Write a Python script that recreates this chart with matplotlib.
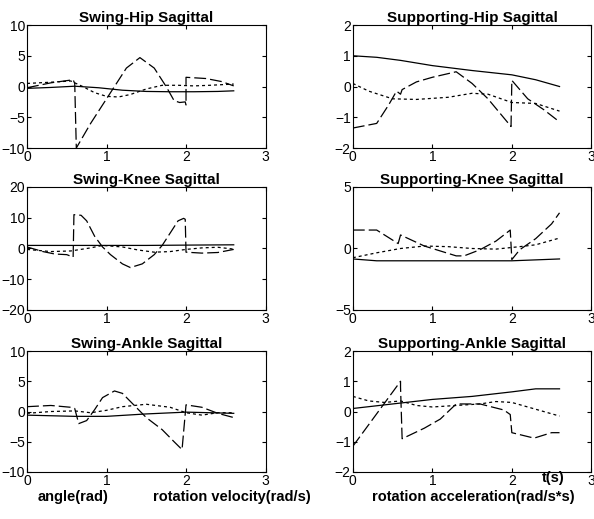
import numpy as np
import matplotlib.pyplot as plt

plt.rcParams['font.family'] = ['Liberation Sans', 'DejaVu Sans']

# --- joint trajectories (t in seconds) ---
# swing hip
sh_t_ang = [0, 0.3, 0.6, 0.9, 1.2, 1.5, 1.8, 2.1, 2.4, 2.6]
sh_ang = [-0.3, -0.15, 0.05, -0.2, -0.6, -0.8, -0.85, -0.85, -0.8, -0.7]
sh_t_vel = [0, 0.3, 0.55, 0.7, 0.85, 1.0, 1.15, 1.3, 1.5, 1.7, 1.9, 2.1, 2.3, 2.6]
sh_vel = [0.5, 0.7, 0.9, 0.0, -1.0, -1.6, -1.7, -1.3, -0.4, 0.2, 0.2, 0.1, 0.2, 0.4]
sh_t_acc = [0, 0.3, 0.58, 0.6, 0.62, 0.8, 1.0, 1.1, 1.25, 1.42, 1.6, 1.75, 1.85, 1.92,
            1.99, 2.0, 2.0, 2.25, 2.45, 2.6]
sh_acc = [-0.2, 0.6, 1.1, 0.5, -10.0, -6.0, -2.0, 0.0, 3.0, 4.7, 3.0, 0.0, -2.3, -2.6,
          -2.5, -3.0, 1.5, 1.3, 0.8, 0.1]

# supporting hip
ph_t_ang = [0, 0.3, 0.6, 1.0, 1.5, 2.0, 2.3, 2.6]
ph_ang = [1.0, 0.95, 0.85, 0.68, 0.52, 0.38, 0.22, 0.0]
ph_t_vel = [0, 0.2, 0.5, 0.8, 1.2, 1.5, 1.7, 2.0, 2.3, 2.6]
ph_vel = [0.1, -0.15, -0.4, -0.42, -0.35, -0.22, -0.25, -0.52, -0.55, -0.8]
ph_t_acc = [0, 0.3, 0.45, 0.55, 0.6, 0.62, 0.8, 1.0, 1.3, 1.5, 1.7, 1.99, 2.0, 2.2, 2.4, 2.6]
ph_acc = [-1.35, -1.2, -0.6, -0.15, -0.25, -0.1, 0.15, 0.3, 0.48, 0.1, -0.4, -1.3, 0.2,
          -0.4, -0.75, -1.15]

# swing knee
sk_t_ang = [0, 0.5, 1.0, 1.5, 2.0, 2.6]
sk_ang = [1.0, 1.0, 1.0, 1.0, 1.1, 1.2]
sk_t_vel = [0, 0.3, 0.55, 0.8, 0.95, 1.2, 1.4, 1.6, 1.8, 2.0, 2.2, 2.4, 2.6]
sk_vel = [-0.3, -1.0, -0.8, 0.2, 1.0, 0.5, -0.5, -1.2, -1.0, -0.3, 0.2, 0.4, -0.2]
sk_t_acc = [0, 0.2, 0.35, 0.5, 0.58, 0.59, 0.68, 0.75, 0.85, 0.95, 1.05, 1.2, 1.3, 1.45,
            1.6, 1.7, 1.8, 1.9, 1.97, 1.99, 2.0, 2.2, 2.4, 2.6]
sk_acc = [0.5, -1.0, -1.8, -2.0, -2.8, 11.0, 10.8, 9.0, 4.0, 0.5, -2.0, -5.0, -6.2, -5.0,
          -2.0, 1.0, 5.0, 9.0, 9.8, 9.5, -1.2, -1.5, -1.3, -0.3]

# supporting knee
pk_t_ang = [0, 0.3, 1.0, 2.0, 2.6]
pk_ang = [-0.85, -1.0, -1.0, -1.0, -0.85]
pk_t_vel = [0, 0.3, 0.6, 0.9, 1.2, 1.5, 1.8, 2.1, 2.3, 2.6]
pk_vel = [-0.75, -0.35, 0.0, 0.2, 0.15, 0.0, -0.05, 0.15, 0.3, 0.85]
pk_t_acc = [0, 0.3, 0.57, 0.6, 0.9, 1.1, 1.3, 1.4, 1.6, 1.8, 1.98, 2.0, 2.1, 2.3, 2.5, 2.6]
pk_acc = [1.5, 1.5, 0.4, 1.1, 0.2, -0.2, -0.6, -0.6, -0.1, 0.6, 1.5, -0.9, -0.1, 0.8,
          2.0, 2.9]

# swing ankle
sa_t_ang = [0, 0.6, 1.0, 1.5, 2.0, 2.6]
sa_ang = [-0.6, -0.8, -0.8, -0.4, -0.1, -0.3]
sa_t_vel = [0, 0.3, 0.6, 0.8, 1.0, 1.2, 1.5, 1.8, 2.0, 2.2, 2.4, 2.6]
sa_vel = [-0.3, 0.0, 0.1, -0.2, 0.2, 0.8, 1.2, 0.7, -0.2, -0.6, -0.2, -0.2]
sa_t_acc = [0, 0.3, 0.55, 0.6, 0.65, 0.75, 0.85, 0.95, 1.1, 1.2, 1.35, 1.5, 1.7, 1.85,
            1.95, 2.0, 2.2, 2.4, 2.6]
sa_acc = [0.8, 1.0, 0.7, 0.5, -2.0, -1.5, 0.3, 2.3, 3.4, 3.0, 1.0, -1.0, -3.0, -5.0,
          -6.3, 1.1, 0.7, -0.3, -1.0]

# supporting ankle
pa_t_ang = [0, 0.5, 1.0, 1.5, 2.0, 2.3, 2.6]
pa_ang = [0.1, 0.25, 0.4, 0.5, 0.65, 0.75, 0.75]
pa_t_vel = [0, 0.2, 0.4, 0.6, 0.8, 1.0, 1.3, 1.6, 1.8, 2.0, 2.2, 2.6]
pa_vel = [0.5, 0.35, 0.3, 0.35, 0.2, 0.15, 0.2, 0.25, 0.33, 0.3, 0.15, -0.15]
pa_t_acc = [0, 0.6, 0.6, 0.62, 0.9, 1.1, 1.3, 1.6, 1.9, 1.98, 2.0, 2.28, 2.5, 2.6]
pa_acc = [-1.15, 1.0, 0.8, -0.9, -0.55, -0.25, 0.25, 0.25, 0.05, -0.1, -0.7, -0.88,
          -0.7, -0.7]

panels = [
    ('Swing-Hip Sagittal', (sh_t_ang, sh_ang), (sh_t_vel, sh_vel), (sh_t_acc, sh_acc), 10, 5),
    ('Supporting-Hip Sagittal', (ph_t_ang, ph_ang), (ph_t_vel, ph_vel), (ph_t_acc, ph_acc), 2, 1),
    ('Swing-Knee Sagittal', (sk_t_ang, sk_ang), (sk_t_vel, sk_vel), (sk_t_acc, sk_acc), 20, 10),
    ('Supporting-Knee Sagittal', (pk_t_ang, pk_ang), (pk_t_vel, pk_vel), (pk_t_acc, pk_acc), 5, 5),
    ('Swing-Ankle Sagittal', (sa_t_ang, sa_ang), (sa_t_vel, sa_vel), (sa_t_acc, sa_acc), 10, 5),
    ('Supporting-Ankle Sagittal', (pa_t_ang, pa_ang), (pa_t_vel, pa_vel), (pa_t_acc, pa_acc), 2, 1),
]

fig = plt.figure(figsize=(5.94, 5.19), dpi=100)

lefts = [0.0455, 0.594]
bottoms = [0.7148, 0.4027, 0.0906]
heights = [0.237, 0.237, 0.233]
w = 0.4015

lw = 0.9
for i, (title, ang, vel, acc, ylim, ystep) in enumerate(panels):
    row, col = divmod(i, 2)
    ax = fig.add_axes([lefts[col], bottoms[row], w, heights[row]])
    ax.plot(ang[0], ang[1], color='black', lw=lw)
    ax.plot(vel[0], vel[1], color='black', lw=lw, dashes=(2.4, 2.4))
    ax.plot(acc[0], acc[1], color='black', lw=lw, dashes=(9.5, 3.2))
    ax.set_xlim(0, 3)
    ax.set_ylim(-ylim, ylim)
    ax.set_xticks([0, 1, 2, 3])
    ax.set_yticks(np.arange(-ylim, ylim + 0.01, ystep))
    ax.tick_params(direction='in', top=True, right=True, length=3, width=0.8,
                   labelsize=10, pad=1.5)
    for s in ax.spines.values():
        s.set_linewidth(0.8)
    ax.set_title(title, fontsize=11, fontweight='bold', pad=2)

fig.text(0.064, 0.042, 'angle(rad)', fontsize=10.5, fontweight='bold', va='center')
fig.text(0.257, 0.042, 'rotation velocity(rad/s)', fontsize=10.5, fontweight='bold', va='center')
fig.text(0.627, 0.042, 'rotation acceleration(rad/s*s)', fontsize=10.5, fontweight='bold',
         va='center')
fig.text(0.912, 0.079, 't(s)', fontsize=10.5, fontweight='bold', va='center')

fig.savefig('out.png', dpi=100)
